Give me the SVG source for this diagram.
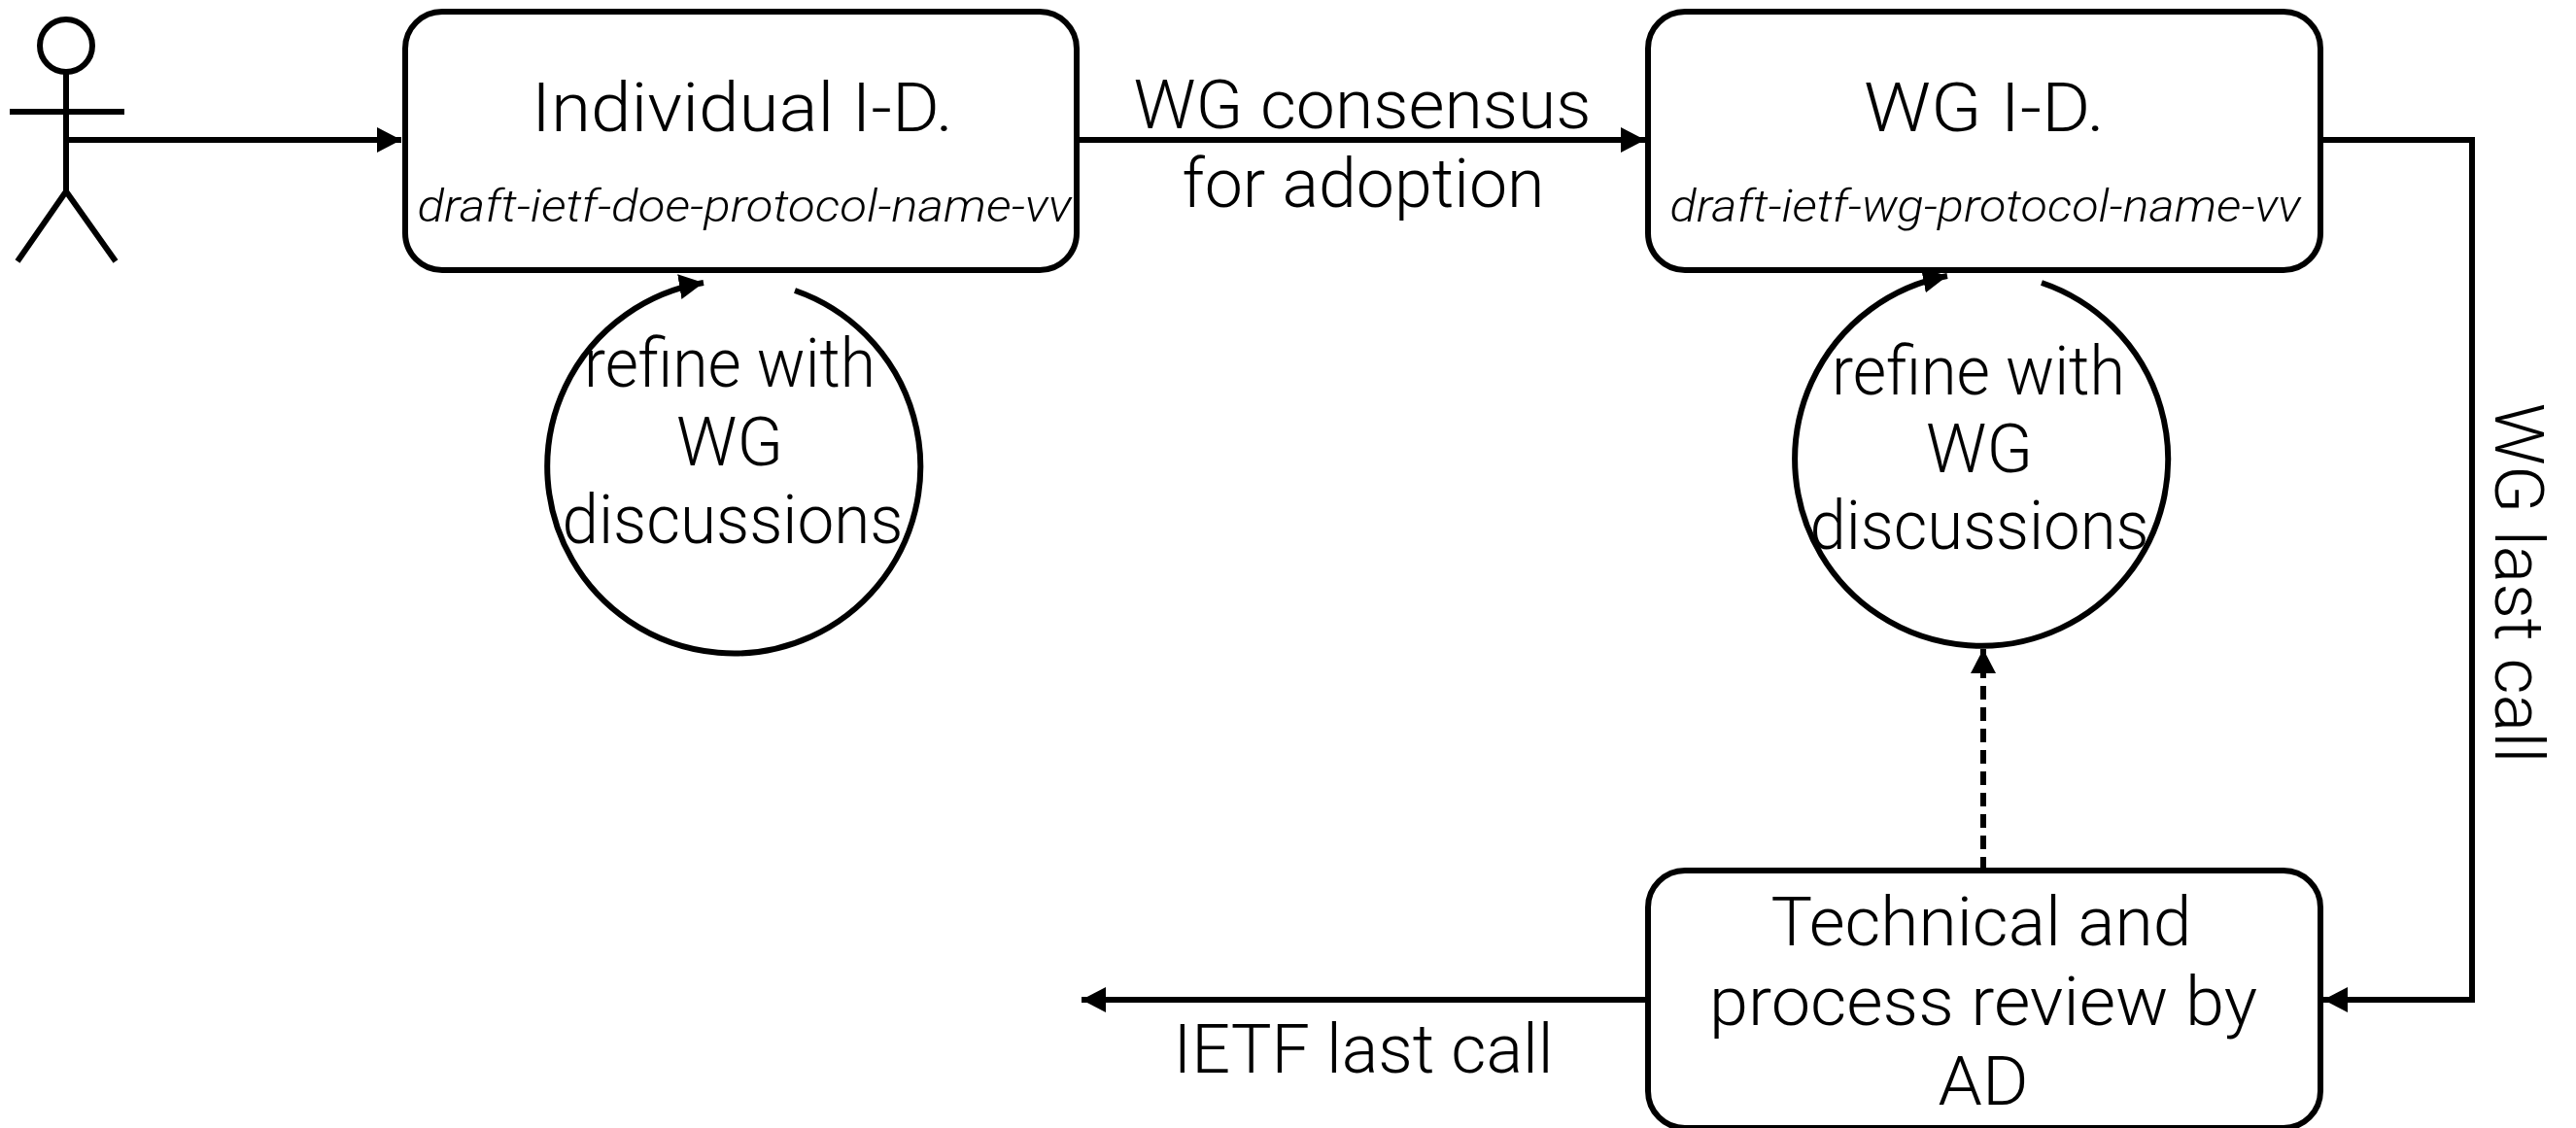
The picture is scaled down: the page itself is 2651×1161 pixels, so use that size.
<svg xmlns="http://www.w3.org/2000/svg" width="2651" height="1161" viewBox="0 0 2651 1161">
<style>
text{font-family:"Roboto","Liberation Sans",sans-serif;font-weight:300;font-size:70px;fill:#000;text-anchor:middle}
.d{font-size:47px;font-style:italic}
.s{fill:none;stroke:#000;stroke-width:6}
.b{fill:#fff;stroke:#000;stroke-width:6}
</style>
<defs><marker id="a" markerUnits="userSpaceOnUse" markerWidth="27" markerHeight="28" refX="25" refY="14" orient="auto"><path d="M0 1L25 14L0 27Z" fill="#000"/></marker></defs>
<rect width="2651" height="1161" fill="#fff"/>
<g id="connectors">
<path class="s" d="M68 144H413" marker-end="url(#a)"/>
<path class="s" d="M1108 144H1693" marker-end="url(#a)"/>
<path class="s" d="M2388 144H2544V1029H2391" marker-end="url(#a)"/>
<path class="s" d="M1695 1029H1113" marker-end="url(#a)"/>
<path class="s" d="M2041 896V668" stroke-dasharray="14 8" marker-end="url(#a)"/>
<path class="s" d="M818 299A192 192 0 1 1 724 291" marker-end="url(#a)"/>
<path class="s" d="M2101 291A192 192 0 1 1 2004 284" marker-end="url(#a)"/>
</g>
<g id="actor"><circle class="s" cx="68" cy="47" r="27"/><path class="s" d="M68 74V197M10 115H128M18 269L68 197L119 269"/></g>
<g id="individual"><rect class="b" x="417" y="12" width="691" height="266" rx="38"/>
<text x="764" y="135" textLength="434" lengthAdjust="spacingAndGlyphs">Individual I-D.</text>
<text class="d" x="766" y="228" textLength="673" lengthAdjust="spacingAndGlyphs">draft-ietf-doe-protocol-name-vv</text></g>
<g id="wg"><rect class="b" x="1696" y="12" width="692" height="266" rx="38"/>
<text x="2042" y="135" textLength="248" lengthAdjust="spacingAndGlyphs">WG I-D.</text>
<text class="d" x="2043" y="228" textLength="649" lengthAdjust="spacingAndGlyphs">draft-ietf-wg-protocol-name-vv</text></g>
<g id="review"><rect class="b" x="1696" y="896" width="692" height="265" rx="38"/>
<text x="2039" y="973" textLength="433" lengthAdjust="spacingAndGlyphs">Technical and</text>
<text x="2041" y="1055" textLength="564" lengthAdjust="spacingAndGlyphs">process review by</text>
<text x="2041" y="1137" textLength="93" lengthAdjust="spacingAndGlyphs">AD</text></g>
<g id="loop1-label">
<text x="751" y="398" textLength="300" lengthAdjust="spacingAndGlyphs">refine with</text>
<text x="751" y="479" textLength="110" lengthAdjust="spacingAndGlyphs">WG</text>
<text x="754" y="559" textLength="351" lengthAdjust="spacingAndGlyphs">discussions</text></g>
<g id="loop2-label">
<text x="2036" y="406" textLength="302" lengthAdjust="spacingAndGlyphs">refine with</text>
<text x="2037" y="486" textLength="110" lengthAdjust="spacingAndGlyphs">WG</text>
<text x="2037" y="565" textLength="349" lengthAdjust="spacingAndGlyphs">discussions</text></g>
<g id="edge-labels">
<text x="1402" y="132" textLength="471" lengthAdjust="spacingAndGlyphs">WG consensus</text>
<text x="1403" y="213" textLength="373" lengthAdjust="spacingAndGlyphs">for adoption</text>
<text x="1403" y="1104" textLength="391" lengthAdjust="spacingAndGlyphs">IETF last call</text>
<text transform="translate(2568 600) rotate(90)" textLength="371" lengthAdjust="spacingAndGlyphs">WG last call</text></g>
</svg>
